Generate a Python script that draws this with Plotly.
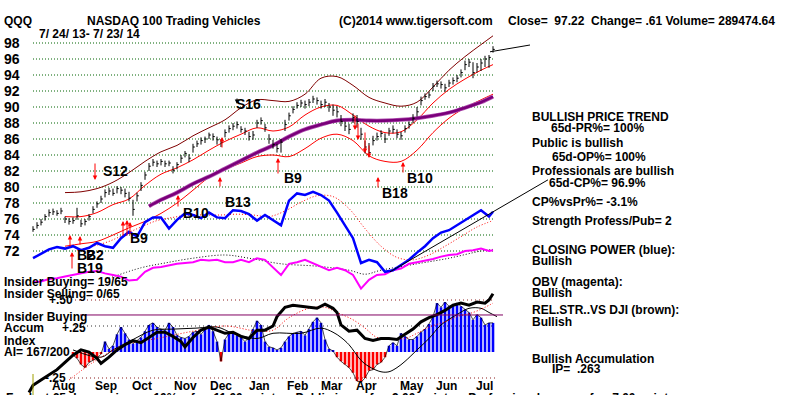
import plotly.graph_objects as go

W, H = 800, 395
FONT = "Liberation Sans, Arial, sans-serif"

# ---------------- data ----------------
months = ["Aug", "Sep", "Oct", "Nov", "Dec", "Jan", "Feb", "Mar", "Apr", "May", "Jun", "Jul"]
month_bar = [7.5, 18.25, 27.25, 38, 47, 56.5, 66, 74.75, 83.25, 94.75, 103.25, 112.75]
price_ticks = list(range(72, 100, 2))

close = [74.7, 75.2, 75.6, 76.3, 76.8, 76.9, 76.7, 77.0, 76.0, 75.7,
         75.8, 76.4, 75.4, 75.7, 76.3, 77.2, 77.9, 78.5, 79.3, 79.5,
         79.2, 79.8, 79.6, 79.2, 78.6, 77.2, 78.9, 80.2, 81.5, 82.6,
         83.1, 82.9, 83.2, 82.9, 83.0, 82.1, 82.8, 83.6, 84.2, 83.6,
         85.0, 85.4, 85.8, 86.0, 86.5, 86.3, 85.9, 85.6, 86.8, 87.3,
         87.6, 87.8, 87.2, 87.0, 86.3, 86.5, 88.0, 88.3, 87.4, 86.0,
         85.3, 84.8, 85.6, 87.8, 88.9, 89.7, 90.2, 90.5, 90.3, 90.6,
         91.0, 90.8, 90.3, 90.6, 90.0, 89.6, 89.4, 88.2, 87.6, 87.2,
         88.7, 88.2, 86.6, 85.0, 84.3, 85.8, 86.3, 86.7, 86.0, 87.0,
         87.2, 86.6, 86.4, 87.3, 87.8, 88.6, 89.4, 90.8, 91.3, 91.5,
         92.6, 92.9, 92.8, 92.4, 93.0, 93.3, 93.6, 94.3, 95.3, 95.6,
         94.3, 95.0, 95.5, 96.0, 96.2, 97.2]
high = [75.1, 75.6, 76.0, 76.6, 77.2, 77.3, 77.1, 77.4, 76.3, 76.1,
        76.2, 77.4, 75.9, 76.0, 76.6, 77.6, 78.2, 78.9, 79.7, 79.9,
        79.8, 80.1, 80.0, 79.8, 79.4, 78.4, 79.3, 80.6, 81.9, 83.0,
        83.5, 83.3, 83.5, 83.3, 83.3, 82.6, 83.1, 84.0, 84.5, 84.1,
        85.4, 85.8, 86.2, 86.3, 86.8, 86.7, 86.3, 86.0, 87.2, 87.7,
        88.0, 88.2, 87.6, 87.4, 86.9, 87.0, 88.4, 88.7, 87.9, 86.6,
        85.9, 85.4, 86.0, 88.4, 89.3, 90.1, 90.6, 90.9, 90.8, 91.0,
        91.4, 91.2, 90.8, 91.0, 90.5, 90.3, 90.1, 89.0, 88.2, 87.9,
        89.2, 89.0, 87.4, 85.8, 85.5, 86.4, 86.8, 87.1, 86.7, 87.4,
        87.7, 87.2, 86.9, 87.7, 88.2, 89.1, 90.0, 91.3, 91.7, 91.9,
        93.0, 93.3, 93.2, 92.9, 93.4, 93.7, 94.0, 94.7, 95.8, 96.0,
        95.6, 95.5, 96.0, 96.4, 96.5, 97.6]
low = [74.4, 74.8, 75.2, 75.8, 76.3, 76.5, 76.4, 76.6, 75.5, 75.3,
       75.4, 75.9, 75.0, 75.2, 75.8, 76.7, 77.4, 78.0, 78.7, 79.0,
       78.9, 79.2, 79.1, 78.7, 78.2, 76.4, 78.2, 79.5, 80.9, 82.0,
       82.6, 82.5, 82.7, 82.5, 82.6, 81.7, 82.2, 83.0, 83.7, 83.1,
       84.3, 85.0, 85.3, 85.5, 86.0, 85.8, 85.3, 85.0, 86.2, 86.8,
       87.1, 87.3, 86.8, 86.5, 85.8, 85.9, 87.4, 87.8, 86.9, 85.4,
       84.8, 84.3, 84.3, 87.0, 88.3, 89.2, 89.8, 90.0, 89.8, 90.1,
       90.5, 90.3, 89.8, 90.0, 89.4, 88.9, 88.7, 87.6, 87.0, 86.6,
       88.0, 87.4, 85.9, 84.2, 83.8, 85.2, 85.8, 86.2, 85.5, 86.4,
       86.7, 86.1, 85.9, 86.8, 87.3, 88.0, 88.8, 90.2, 90.9, 91.1,
       92.0, 92.5, 92.3, 91.9, 92.5, 92.8, 93.1, 93.7, 94.6, 95.0,
       93.6, 94.3, 94.5, 95.0, 94.9, 96.8]

band_x = [8, 12, 16, 20, 24, 28, 32, 36, 40, 44, 48, 52, 56, 60, 64, 68, 72, 76,
          80, 84, 88, 92, 96, 100, 104, 108, 112, 115]
band_upper = [79.3, 79.4, 79.8, 80.6, 81.8, 83.2, 84.4, 85.2, 86.4, 87.4, 88.4, 89.9, 90.9, 90.8,
              90.7, 91.6, 93.6, 93.8, 92.7, 91.2, 90.5, 90.1, 90.6, 92.5, 94.6, 96.3, 97.8, 98.9]
ma21 = [76.3, 76.3, 76.8, 77.8, 78.5, 80.2, 81.6, 82.4, 83.4, 84.6, 85.7, 86.6, 87.4, 87.0,
        87.5, 89.0, 90.0, 90.2, 89.0, 87.6, 86.8, 86.9, 88.4, 90.5, 92.2, 93.5, 94.6, 95.3]
band_lower = [72.6, 72.9, 73.2, 74.0, 74.9, 75.7, 76.7, 78.0, 79.6, 81.2, 82.2, 83.0, 83.8, 84.0,
              83.8, 84.8, 86.1, 86.6, 85.8, 83.9, 83.2, 83.2, 84.6, 86.8, 88.6, 89.9, 90.9, 91.6]

ma65_x = [29, 32, 36, 40, 44, 48, 52, 56, 60, 64, 68, 72, 76, 80, 84, 88, 92, 96, 100,
          104, 108, 112, 115]
ma65 = [77.6, 78.4, 79.3, 80.4, 81.3, 82.3, 83.3, 84.3, 85.2, 86.3, 87.2, 87.8, 88.3, 88.4,
        88.3, 88.3, 88.4, 88.6, 88.9, 89.3, 89.9, 90.6, 91.3]

line_x = list(range(0, 115, 2)) + [115]
closing_power = [71.1, 71.6, 72.2, 72.5, 72.3, 72.6, 72.1, 72.4, 73.0, 72.6,
                 72.4, 73.6, 74.4, 73.8, 75.6, 76.2, 76.2, 74.8, 75.9, 76.7,
                 76.5, 76.1, 76.8, 76.2, 76.1, 77.1, 77.0, 76.6, 75.8, 76.5,
                 75.9, 75.2, 78.3, 79.2, 79.0, 79.4, 79.0, 78.3, 76.8, 75.2,
                 73.6, 70.5, 70.9, 70.6, 69.4, 69.6, 70.2, 70.9, 71.8, 72.6,
                 73.6, 74.3, 74.6, 75.2, 75.9, 76.5, 77.1, 76.3, 76.9]
obv = [68.1, 68.2, 68.5, 68.6, 68.8, 69.0, 69.2, 69.4, 69.5, 69.2,
       69.0, 68.8, 68.3, 68.4, 69.4, 69.9, 70.0, 70.2, 70.4, 70.5,
       70.6, 70.9, 70.8, 70.9, 70.6, 70.6, 70.9, 70.6, 71.1, 70.9,
       69.9, 69.0, 70.4, 70.6, 70.9, 70.5, 70.1, 69.6, 69.9, 69.6,
       69.0, 67.3, 68.4, 69.0, 69.1, 69.6, 69.8, 70.4, 70.6, 70.8,
       71.0, 71.3, 71.5, 71.6, 72.0, 72.1, 72.3, 72.0, 72.1]

cpma_x = [11, 15, 19, 23, 27, 31, 35, 39, 43, 47, 51, 55, 59, 63, 67, 71, 75, 79, 83, 87,
          91, 95, 99, 103, 107, 111, 115]
cp_ma = [72.1, 72.6, 73.2, 74.1, 75.0, 75.8, 76.2, 76.5, 76.5, 76.5, 76.6, 76.5, 76.3, 77.0,
         78.1, 78.9, 78.8, 77.3, 74.8, 72.6, 71.2, 70.9, 71.5, 72.6, 73.8, 75.0, 75.8]

obvma_x = [19, 27, 33, 40, 48, 54, 62, 71, 79, 83, 87, 96, 104, 112, 115]
obv_ma = [68.6, 69.9, 70.5, 71.1, 71.5, 71.1, 70.4, 70.1, 69.6, 69.1, 69.6, 70.4, 71.1, 72.0, 72.2]

trend_x = [89.25, 128.75]
trend_y = [69.4, 80.9]
top_trend_x = [114.25, 124.25]
top_trend_y = [96.9, 97.75]

ai_x = list(range(10, 116))
accum_index = [-0.03, -0.06, -0.12, -0.15, -0.10, -0.08, -0.06, -0.02, 0.10, 0.03,
               0.06, 0.17, 0.24, 0.18, 0.12, 0.08, 0.11, 0.14, 0.20, 0.26,
               0.28, 0.24, 0.22, 0.21, 0.28, 0.24, 0.16, 0.14, 0.13, 0.15,
               0.19, 0.20, 0.17, 0.22, 0.26, 0.20, 0.10, -0.09, 0.12, 0.18,
               0.19, 0.16, 0.14, 0.10, 0.14, 0.22, 0.30, 0.26, 0.10, 0.05,
               0.04, 0.02, 0.04, 0.10, 0.15, 0.18, 0.19, 0.20, 0.16, 0.22,
               0.29, 0.33, 0.28, 0.12, 0.03, 0.01, -0.05, -0.09, -0.12, -0.15,
               -0.20, -0.28, -0.29, -0.25, -0.18, -0.17, -0.12, -0.10, -0.05, 0.06,
               0.09, 0.06, 0.18, 0.15, 0.12, 0.12, 0.15, 0.19, 0.22, 0.27,
               0.34, 0.47, 0.43, 0.48, 0.44, 0.45, 0.47, 0.44, 0.41, 0.38,
               0.31, 0.36, 0.33, 0.26, 0.28, 0.28]

rs_x = [-1, 0, 2, 4, 6, 8, 10, 12, 14, 16, 17, 19, 21, 23, 25, 27, 29, 31, 33, 35, 37,
        38, 40, 42, 44, 46, 48, 50, 52, 54, 56, 58, 60, 61, 63, 65, 67, 69, 71, 73, 75,
        76, 77, 79, 81, 83, 85, 87, 89, 91, 93, 95, 97, 99, 101, 103, 105, 107, 109, 111,
        113, 114, 115]
rel_strength = [-0.39, -0.32, -0.27, -0.22, -0.17, -0.10, -0.03, 0.02, 0.00, -0.06, -0.11,
                -0.05, 0.02, 0.07, 0.11, 0.09, 0.14, 0.19, 0.19, 0.15, 0.10,
                0.05, 0.14, 0.21, 0.24, 0.21, 0.18, 0.19, 0.15, 0.13, 0.21,
                0.21, 0.25, 0.34, 0.43, 0.45, 0.44, 0.43, 0.42, 0.46, 0.42,
                0.38, 0.26, 0.20, 0.21, 0.13, 0.11, 0.13, 0.13, 0.12, 0.17,
                0.22, 0.29, 0.33, 0.36, 0.40, 0.45, 0.47, 0.45, 0.48, 0.47,
                0.50, 0.56]

thin_x = [10, 17, 20, 25, 30, 35, 41, 46, 50, 56, 60, 67, 72, 75, 77, 79, 82, 84, 87, 89,
          91, 93, 96, 99, 102, 106, 109, 112, 114, 116]
ai_thin = [0.02, -0.05, 0.02, 0.12, 0.21, 0.22, 0.23, 0.24, 0.18, 0.13,
           0.18, 0.18, 0.23, 0.19, 0.14, 0.07, -0.08, -0.14, -0.19, -0.19,
           -0.15, -0.09, 0.02, 0.13, 0.26, 0.36, 0.42, 0.42, 0.38, 0.34]

aima_x = [9, 15, 23, 31, 40, 48, 56, 60, 64, 69, 73, 76, 80, 83, 86, 89, 93, 96, 99, 103,
          106, 110, 113, 115]
ai_ma = [-0.27, -0.10, 0.07, 0.13, 0.20, 0.25, 0.20, 0.21, 0.33, 0.42, 0.43, 0.38, 0.31,
         0.23, 0.14, 0.13, 0.13, 0.18, 0.24, 0.29, 0.34, 0.38, 0.43, 0.47]

ai_levels = [0.50, 0.25, -0.25]
insider_level = 0.356

# ---------------- helpers (layout only) ----------------
def bx(px):
    return (px - 33) / 4.0


def pval(py):
    return 98 - (py - 43) / 8.0


def txt(s, px, py, size=12, anchor="left", color="black"):
    return dict(text=s, x=px / W, y=1 - py / H, xref="paper", yref="paper",
                xanchor=anchor, yanchor="middle", showarrow=False,
                font=dict(family=FONT, size=size, color=color, weight="bold"))


fig = go.Figure()

# ---------- lower panel: accumulation index ----------
fig.add_trace(go.Bar(x=ai_x, y=accum_index, yaxis="y2", width=0.65,
                     marker=dict(color=["#0000ff" if v >= 0 else "#ff0000" for v in accum_index],
                                 line=dict(width=0))))
fig.add_trace(go.Scatter(x=ai_x, y=accum_index, yaxis="y2", mode="lines",
                         line=dict(color="#000000", width=0.7)))
fig.add_trace(go.Scatter(x=thin_x, y=ai_thin, yaxis="y2", mode="lines",
                         line=dict(color="#000000", width=1, shape="spline")))
fig.add_trace(go.Scatter(x=aima_x, y=ai_ma, yaxis="y2", mode="lines",
                         line=dict(color="#ff0000", width=1, dash="1px,2px", shape="spline")))
fig.add_trace(go.Scatter(x=rs_x, y=rel_strength, yaxis="y2", mode="lines",
                         line=dict(color="#000000", width=3)))

# ---------- price panel ----------
fig.add_trace(go.Scatter(x=band_x, y=band_upper, mode="lines",
                         line=dict(color="#800000", width=1, shape="spline")))
fig.add_trace(go.Scatter(x=band_x, y=band_lower, mode="lines",
                         line=dict(color="#ff0000", width=1, shape="spline")))
fig.add_trace(go.Scatter(x=band_x, y=ma21, mode="lines",
                         line=dict(color="#ff0000", width=1, shape="spline")))
fig.add_trace(go.Scatter(x=ma65_x, y=ma65, mode="lines",
                         line=dict(color="#b050b0", width=4, shape="spline")))
fig.add_trace(go.Scatter(x=ma65_x, y=ma65, mode="lines",
                         line=dict(color="#7a007a", width=2.6, shape="spline")))

bar_x, bar_y, tick_x, tick_y = [], [], [], []
for i, (lo, hi, c) in enumerate(zip(low, high, close)):
    bar_x += [i, i, None]
    bar_y += [lo, hi, None]
    tick_x += [i, i + 0.45, None]
    tick_y += [c, c, None]
fig.add_trace(go.Scatter(x=bar_x, y=bar_y, mode="lines", line=dict(color="black", width=1)))
fig.add_trace(go.Scatter(x=tick_x, y=tick_y, mode="lines", line=dict(color="black", width=1)))

fig.add_trace(go.Scatter(x=cpma_x, y=cp_ma, mode="lines",
                         line=dict(color="#ff0000", width=1, dash="1px,2px", shape="spline")))
fig.add_trace(go.Scatter(x=obvma_x, y=obv_ma, mode="lines",
                         line=dict(color="#000000", width=1, dash="1px,2px", shape="spline")))
fig.add_trace(go.Scatter(x=line_x, y=obv, mode="lines", line=dict(color="#ff00ff", width=2)))
fig.add_trace(go.Scatter(x=line_x, y=closing_power, mode="lines", line=dict(color="#0000ff", width=2.5)))
fig.add_trace(go.Scatter(x=trend_x, y=trend_y, mode="lines", line=dict(color="#000000", width=1)))
fig.add_trace(go.Scatter(x=top_trend_x, y=top_trend_y, mode="lines", line=dict(color="#000000", width=1)))

# ---------- shapes ----------
shapes = []
for v in price_ticks:
    shapes.append(dict(type="line", xref="x", yref="y", x0=0, x1=115.5, y0=v, y1=v, layer="below",
                       line=dict(color="#006400", width=1, dash="1px,2px")))
shapes.append(dict(type="line", xref="x", yref="y2", x0=bx(75), x1=115.5, y0=ai_levels[0], y1=ai_levels[0],
                   layer="below", line=dict(color="#8b1a1a", width=1, dash="1px,3px")))
shapes.append(dict(type="line", xref="x", yref="y2", x0=bx(75), x1=115.5, y0=ai_levels[1], y1=ai_levels[1],
                   layer="below", line=dict(color="#333333", width=1, dash="1px,3px")))
shapes.append(dict(type="line", xref="x", yref="y2", x0=bx(70), x1=115.5, y0=ai_levels[2], y1=ai_levels[2],
                   layer="below", line=dict(color="#8b1a1a", width=1, dash="1px,3px")))
shapes.append(dict(type="line", xref="x", yref="y2", x0=bx(80), x1=bx(503), y0=insider_level, y1=insider_level,
                   layer="above", line=dict(color="#800060", width=1)))
shapes.append(dict(type="line", xref="x", yref="paper", x0=0, x1=0, y0=0, y1=1 - 374 / H,
                   line=dict(color="#a0a000", width=1)))

# ---------- annotations ----------
ann = []
for v in price_ticks:
    ann.append(dict(text=str(v), x=2 / W, y=v, xref="paper", yref="y", xanchor="left", yanchor="middle",
                    showarrow=False, font=dict(family=FONT, size=14, color="black", weight="bold")))
for m, xb in zip(months, month_bar):
    ann.append(dict(text=m, x=xb, y=1 - 386 / H, xref="x", yref="paper", xanchor="center", yanchor="middle",
                    showarrow=False, font=dict(family=FONT, size=12, color="black", weight="bold")))

ann += [
    txt("QQQ", 2, 21),
    txt("NASDAQ 100 Trading Vehicles", 85, 21),
    txt("(C)2014 www.tigersoft.com", 337, 21),
    txt("Close=\u00a0\u00a097.22\u00a0\u00a0Change= .61 Volume= 289474.64", 506, 21),
    txt("7/ 24/ 13- 7/ 23/ 14", 37, 34),
    txt("BULLISH PRICE TREND", 530, 117),
    txt("65d-PR%= 100%", 549, 128.5),
    txt("Public is bullish", 530, 143.5),
    txt("65d-OP%= 100%", 550, 156.5),
    txt("Professionals are bullish", 530, 170.5),
    txt("65d-CP%= 96.9%", 547, 182.5),
    txt("CP%vsPr%= -3.1%", 530, 202.5),
    txt("Strength Profess/Pub= 2", 530, 221),
    txt("CLOSING POWER (blue):", 530, 249.5),
    txt("Bullish", 530, 260.5),
    txt("OBV (magenta):", 530, 282),
    txt("Bullish", 530, 293),
    txt("REL.STR..VS DJI (brown):", 530, 310),
    txt("Bullish", 530, 322),
    txt("Bullish Accumulation", 530, 359),
    txt("IP=\u00a0\u00a0.263", 550, 368.5),
    txt("+.50", 47, 300),
    txt("Insider Buying= 19/65", 2, 281.5),
    txt("Insider Selling= 0/65", 2, 293.5),
    txt("Insider Buying", 2, 316.5),
    txt("Accum", 2, 327.5),
    txt("+.25", 60, 327.5),
    txt("Index", 2, 340.5),
    txt("AI= 167/200", 2, 352),
    txt("-.25", 68, 378, anchor="right"),
    txt("For last 65 days, price up 10%\u00a0\u00a0\u00a0\u00a0for\u00a0\u00a011.00 points\u00a0\u00a0\u00a0\u00a0Public is up\u00a0\u00a0for\u00a0\u00a09.00 points"
        "\u00a0\u00a0\u00a0\u00a0Professionals are up for\u00a0\u00a07.00 points", 4, 397.5),
]

signals = [("S12", 116, 171), ("S16", 248, 104), ("B9", 293, 178), ("B13", 238, 202),
           ("B10", 196, 213), ("B9", 139, 238), ("B2", 86, 255), ("B2", 95, 255),
           ("B19", 90, 268), ("B18", 395, 193), ("B10", 420, 178)]
for s, px, py in signals:
    ann.append(txt(s, px, py, size=14, anchor="center"))

up_arrows = [(70, 235, 13), (80, 236, 10), (72, 252, 18), (123, 221, 16), (127, 220, 17),
             (130, 222, 14), (178, 195, 13), (220, 177, 11), (222, 137, 12), (278, 158, 17),
             (378, 177, 12), (403, 162, 12)]
for px, py, ln in up_arrows:
    ann.append(dict(x=bx(px), y=pval(py), xref="x", yref="y", text="", showarrow=True,
                    ax=0, ay=ln, arrowhead=2, arrowsize=0.9, arrowwidth=1, arrowcolor="#ff0000"))
down_arrows = [(95, 180, 18, "#ff0000"), (355, 130, 16, "#ff0000"), (358, 140, 18, "#ff0000"),
               (365, 153, 22, "#ff0000"), (369, 158, 14, "#ff0000"), (237, 104, 7, "#000000")]
for px, py, ln, col in down_arrows:
    ann.append(dict(x=bx(px), y=pval(py), xref="x", yref="y", text="", showarrow=True,
                    ax=0, ay=-ln, arrowhead=2, arrowsize=0.9, arrowwidth=1, arrowcolor=col))

fig.update_layout(
    width=W, height=H, margin=dict(l=0, r=0, t=0, b=0),
    paper_bgcolor="white", plot_bgcolor="white", showlegend=False,
    xaxis=dict(range=[bx(0), bx(W)], visible=False, fixedrange=True),
    yaxis=dict(range=[pval(H), pval(0)], visible=False, fixedrange=True),
    yaxis2=dict(range=[-(H - 352) / 104.0, 352 / 104.0], overlaying="y", visible=False, fixedrange=True),
    shapes=shapes, annotations=ann, hovermode=False,
)

fig.write_html("out.html", config={"displayModeBar": False},
               post_script="document.body.style.margin='0';document.body.style.overflow='hidden';")
